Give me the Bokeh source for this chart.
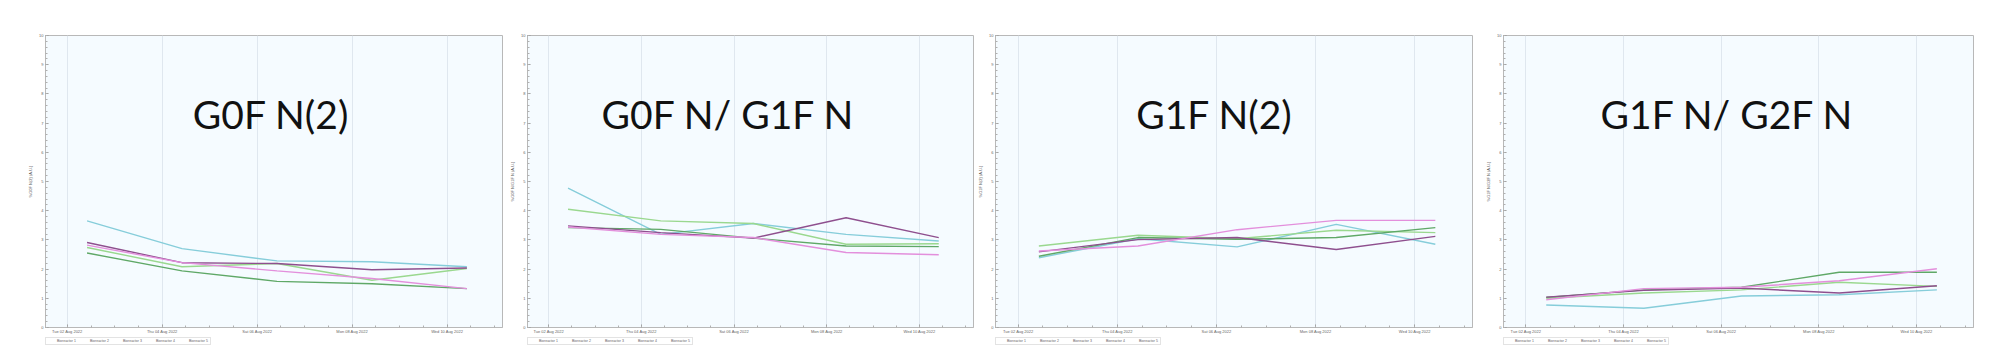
from datetime import datetime
from bokeh.plotting import figure
from bokeh.layouts import row, column
from bokeh.models import (Range1d, FixedTicker, DatetimeTickFormatter, Legend, LegendItem, Label)
from bokeh.embed import file_html
from bokeh.resources import INLINE

# ---------------- data ----------------
sample_times = ["2022-08-02 10:00", "2022-08-04 10:00", "2022-08-06 10:00",
                "2022-08-08 10:00", "2022-08-10 10:00"]
tick_dates = ["2022-08-02", "2022-08-04", "2022-08-06", "2022-08-08", "2022-08-10"]
series_names = ["Bioreactor 1", "Bioreactor 2", "Bioreactor 3", "Bioreactor 4", "Bioreactor 5"]
series_colors = ["#86cdda", "#9ad88f", "#5fa867", "#8e4f8e", "#e38fdc"]
panel_titles = ["G0F N(2)", "G0F N/ G1F N", "G1F N(2)", "G1F N/ G2F N"]
y_labels = ["%G0F N(2) (A.U.)", "%G0F N/G1F N (A.U.)", "%G1F N(2) (A.U.)", "%G1F N/G2F N (A.U.)"]
y_ticks = [0, 1, 2, 3, 4, 5, 6, 7, 8, 9, 10]

g0f_n2 = [
    [3.65, 2.70, 2.28, 2.25, 2.08],
    [2.74, 2.08, 2.19, 1.62, 2.02],
    [2.55, 1.94, 1.58, 1.50, 1.33],
    [2.91, 2.22, 2.19, 1.98, 2.04],
    [2.82, 2.22, 1.94, 1.68, 1.33],
]
g0f_g1f = [
    [4.77, 3.19, 3.56, 3.19, 2.96],
    [4.05, 3.65, 3.56, 2.85, 2.87],
    [3.42, 3.36, 3.06, 2.79, 2.77],
    [3.48, 3.25, 3.06, 3.76, 3.08],
    [3.44, 3.19, 3.08, 2.57, 2.49],
]
g1f_n2 = [
    [2.39, 3.04, 2.76, 3.53, 2.85],
    [2.79, 3.16, 3.04, 3.33, 3.25],
    [2.44, 3.08, 3.02, 3.08, 3.42],
    [2.59, 3.01, 3.08, 2.67, 3.12],
    [2.62, 2.79, 3.35, 3.67, 3.67],
]
g1f_g2f = [
    [0.77, 0.66, 1.08, 1.12, 1.29],
    [1.00, 1.18, 1.29, 1.55, 1.41],
    [1.03, 1.29, 1.38, 1.89, 1.89],
    [1.04, 1.27, 1.35, 1.18, 1.43],
    [0.95, 1.33, 1.38, 1.60, 2.01],
]
panels_data = [g0f_n2, g0f_g1f, g1f_n2, g1f_g2f]

# ---------------- layout params ----------------
layout = [
    # (border_left, frame_w, border_right, title_x)
    (45, 457, 1, "2022-08-06 07:00"),
    (24, 446, 2, "2022-08-05 21:00"),
    (20, 477, 2, "2022-08-05 23:00"),
    (29, 470, 19, "2022-08-06 03:00"),
]
BORDER_TOP = 35
FRAME_H = 292
BORDER_BOTTOM = 6
LEGEND_H = 12

def ms(s):
    fmt = "%Y-%m-%d %H:%M" if " " in s else "%Y-%m-%d"
    return (datetime.strptime(s, fmt) - datetime(1970, 1, 1)).total_seconds() * 1000.0

x_times = [datetime.strptime(s, "%Y-%m-%d %H:%M") for s in sample_times]
x_start = datetime(2022, 8, 1, 13, 0)
x_end = datetime(2022, 8, 11, 4, 0)
major = [ms(d) for d in tick_dates]
minor = [ms("2022-08-01") + i * 12 * 3600 * 1000 for i in range(0, 22)]

cols = []
for k in range(4):
    bl, fw, br, tx = layout[k]
    p = figure(x_axis_type="datetime", frame_width=fw, frame_height=FRAME_H,
               min_border_left=bl, min_border_right=br, min_border_top=BORDER_TOP,
               min_border_bottom=BORDER_BOTTOM,
               output_backend="svg", toolbar_location=None,
               background_fill_color="#f5fbff", border_fill_color="white",
               x_range=Range1d(x_start, x_end), y_range=Range1d(0, 10))
    p.outline_line_color = "#b8b8b8"
    p.outline_line_width = 1

    for i, vals in enumerate(panels_data[k]):
        p.line(x_times, vals, line_color=series_colors[i], line_width=1.4)

    p.xaxis.ticker = FixedTicker(ticks=major, minor_ticks=minor)
    p.xaxis.formatter = DatetimeTickFormatter(days="%a %d %b %Y", months="%a %d %b %Y",
                                              hours="%a %d %b %Y")
    p.yaxis.ticker = FixedTicker(ticks=y_ticks,
                                 minor_ticks=[i * 0.2 for i in range(0, 51)])
    for ax in (p.xaxis[0], p.yaxis[0]):
        ax.axis_line_color = "#b8b8b8"
        ax.major_tick_line_color = "#9a9a9a"
        ax.minor_tick_line_color = "#b0b0b0"
        ax.major_tick_in = 3
        ax.major_tick_out = 0
        ax.minor_tick_in = 2
        ax.minor_tick_out = 0
        ax.major_label_text_font_size = "4px"
        ax.major_label_text_color = "#666666"
        ax.major_label_standoff = 2
        ax.major_label_text_font = "Liberation Sans"
    p.xaxis.major_label_standoff = 1
    p.yaxis.axis_label = y_labels[k]
    p.yaxis.axis_label_text_font_size = "4px"
    p.yaxis.axis_label_text_font_style = "normal"
    p.yaxis.axis_label_text_color = "#555555"
    p.yaxis.axis_label_standoff = 3
    p.xgrid.grid_line_color = "#dfe7ef"
    p.xgrid.grid_line_width = 1
    p.ygrid.grid_line_color = None

    title = Label(x=ms(tx), y=7.3, text=panel_titles[k],
                  text_font="Lato", text_font_size="39px", text_color="#111111",
                  text_align="center", text_baseline="middle")
    p.add_layout(title)

    # legend strip under the panel (its frame is aligned with the panel frame)
    lf = figure(width=bl + fw + br, height=LEGEND_H, min_border=0,
                output_backend="svg", toolbar_location=None,
                x_axis_location=None, y_axis_location=None,
                x_range=Range1d(0, 1), y_range=Range1d(0, 1),
                background_fill_color="white", border_fill_color="white")
    lf.outline_line_color = None
    lf.xgrid.grid_line_color = None
    lf.ygrid.grid_line_color = None
    leg_rs = [lf.line(x=[], y=[], line_color=series_colors[i], line_width=1.4)
              for i in range(5)]
    items = [LegendItem(label=series_names[i], renderers=[leg_rs[i]]) for i in range(5)]
    leg = Legend(items=items, orientation="horizontal", location=(0, 3),
                 label_text_font_size="3.5px", label_text_color="#666666",
                 label_height=4, glyph_height=4, glyph_width=8,
                 spacing=3, padding=1, margin=0, label_standoff=2,
                 border_line_color="#c8c8c8", background_fill_alpha=0)
    lf.add_layout(leg)
    cols.append(column(p, lf, spacing=0))

layout_row = row(*cols, spacing=0)
open("out.html", "w").write(file_html(layout_row, INLINE))
